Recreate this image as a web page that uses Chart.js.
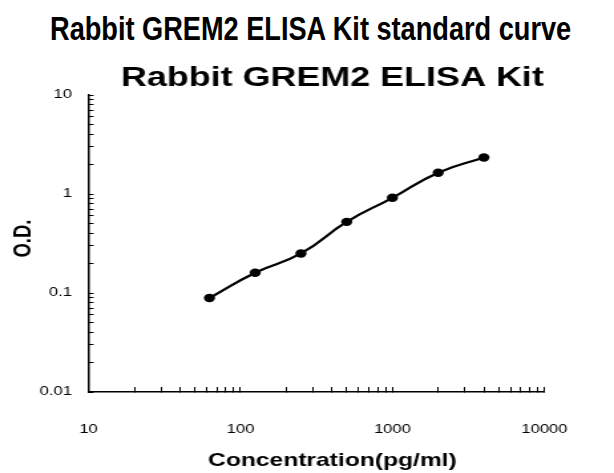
<!DOCTYPE html>
<html>
<head>
<meta charset="utf-8">
<script src="https://cdn.jsdelivr.net/npm/chart.js@4/dist/chart.umd.min.js"></script>
<style>
  html, body { margin: 0; padding: 0; background: #fff; }
  body { width: 614px; height: 473px; position: relative; overflow: hidden; }
  #pageTitle {
    position: absolute; left: -6px; top: 12px; width: 614px; text-align: center;
    line-height: 33px; white-space: nowrap;
  }
  #pageTitle span {
    display: inline-block; transform: scaleX(0.823); transform-origin: 50% 50%;
    font-family: "Liberation Sans", Arial, sans-serif;
    font-weight: bold; font-size: 33px; color: #000;
  }
  #chart { position: absolute; left: 0; top: 0; }
</style>
</head>
<body>
<div id="pageTitle"><span>Rabbit GREM2 ELISA Kit standard curve</span></div>
<canvas id="chart" width="462" height="473" style="width:614px;height:473px;"></canvas>
<script>
// ---- data ----
const concentrations = [62.5, 125, 250, 500, 1000, 2000, 4000];      // pg/ml
const odValues       = [0.089, 0.160, 0.251, 0.523, 0.915, 1.64, 2.34];
const xTickValues = [10, 100, 1000, 10000];
const xTickLabels = ['10', '100', '1000', '10000'];
const yTickValues = [0.01, 0.1, 1, 10];
const yTickLabels = ['0.01', '0.1', '1', '10'];
const chartTitle = 'Rabbit GREM2 ELISA Kit';
const xAxisTitle = 'Concentration(pg/ml)';
const yAxisTitle = 'O.D.';

const points = concentrations.map((c, i) => ({ x: c, y: odValues[i] }));

function logTicks(min, max) {
  const out = [];
  const e0 = Math.floor(Math.log10(min)), e1 = Math.ceil(Math.log10(max));
  for (let e = e0; e <= e1; e++) {
    for (let m = 1; m <= 9; m++) {
      const v = Number((m * Math.pow(10, e)).toPrecision(12));
      if (v >= min * 0.999999 && v <= max * 1.000001) out.push({ value: v });
    }
  }
  return out;
}
function labelFor(values, labels) {
  return (v) => {
    const i = values.findIndex(t => Math.abs(t - v) / t < 1e-6);
    return i >= 0 ? labels[i] : '';
  };
}

const FAMILY = '"Liberation Sans", Arial, sans-serif';
const tickFont = { family: FAMILY, size: 12.5 };

// Titles drawn as canvas text, placed relative to the chart area
const titlesPlugin = {
  id: 'titles',
  afterDraw(chart) {
    const { ctx, chartArea } = chart;
    const cx = (chartArea.left + chartArea.right) / 2 + 12;
    ctx.save();
    ctx.fillStyle = '#000';
    ctx.textAlign = 'center';
    ctx.textBaseline = 'middle';
    ctx.font = 'bold 27px ' + FAMILY;
    ctx.fillText(chartTitle, cx, chartArea.top - 16);
    ctx.font = 'bold 18.5px ' + FAMILY;
    ctx.fillText(xAxisTitle, cx, chart.height - 11.6);
    ctx.translate(18, (chartArea.top + chartArea.bottom) / 2 - 5);
    ctx.rotate(-Math.PI / 2);
    ctx.fillText(yAxisTitle, 0, 0);
    ctx.restore();
  }
};

new Chart(document.getElementById('chart'), {
  type: 'line',
  data: {
    datasets: [{
      data: points,
      borderColor: '#000',
      backgroundColor: '#000',
      borderWidth: 2.2,
      tension: 0.5,
      pointRadius: 4.2,
      pointBackgroundColor: '#000',
      pointBorderWidth: 0,
      fill: false
    }]
  },
  options: {
    responsive: false,
    animation: false,
    devicePixelRatio: 1,
    layout: { padding: { left: 0, right: 16.2, top: 95, bottom: 0 } },
    plugins: {
      legend: { display: false },
      tooltip: { enabled: false },
      title: { display: false }
    },
    scales: {
      x: {
        type: 'logarithmic',
        min: 10, max: 10000,
        afterBuildTicks: (s) => { s.ticks = logTicks(10, 10000); },
        afterFit: (s) => { s.height = 81; },
        border: { display: true, color: '#000', width: 1.5 },
        grid: { drawOnChartArea: false, drawTicks: true, tickLength: -5, color: '#000', lineWidth: 1 },
        ticks: {
          autoSkip: false, maxRotation: 0, minRotation: 0, padding: 35,
          color: '#000', font: tickFont,
          callback: labelFor(xTickValues, xTickLabels)
        },
        title: { display: false }
      },
      y: {
        type: 'logarithmic',
        min: 0.01, max: 10,
        afterBuildTicks: (s) => { s.ticks = logTicks(0.01, 10); },
        afterFit: (s) => { s.width = 66.6; },
        border: { display: true, color: '#000', width: 1.5 },
        grid: { drawOnChartArea: false, drawTicks: true, tickLength: -3.8, color: '#000', lineWidth: 1 },
        ticks: {
          autoSkip: false, padding: 16.2,
          color: '#000', font: tickFont,
          callback: labelFor(yTickValues, yTickLabels)
        },
        title: { display: false }
      }
    }
  },
  plugins: [titlesPlugin]
});
</script>
</body>
</html>
